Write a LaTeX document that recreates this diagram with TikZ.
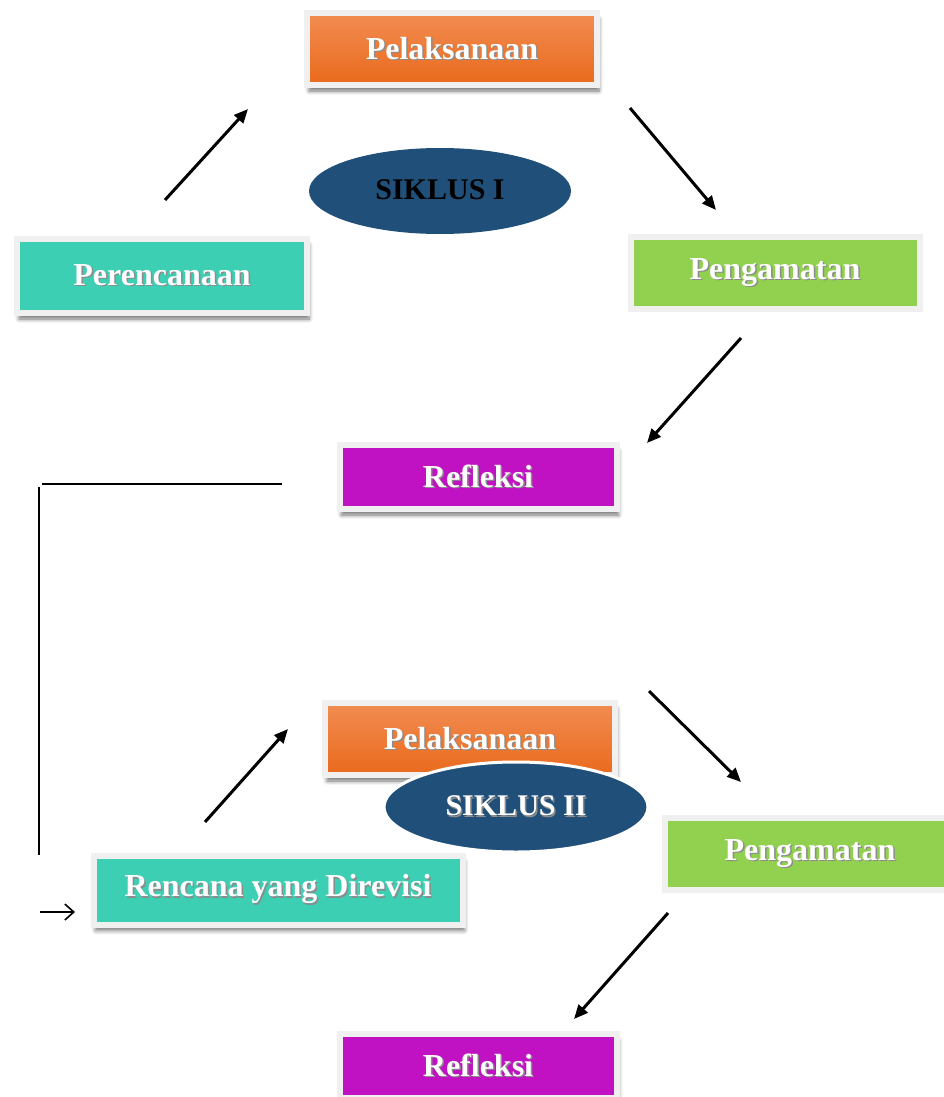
\documentclass[tikz,border=0pt]{standalone}
\usepackage{fontspec}
\setmainfont{Liberation Serif}
\usetikzlibrary{shapes.geometric,shadows,shadows.blur,arrows.meta}
\definecolor{orA}{HTML}{F28C52}
\definecolor{orB}{HTML}{E96A1C}
\definecolor{tealc}{HTML}{3CCFB3}
\definecolor{greenc}{HTML}{92D050}
\definecolor{magc}{HTML}{C012C2}
\definecolor{bluec}{HTML}{20507A}
\definecolor{rimc}{HTML}{F0F0F0}
\tikzset{
  boxbase/.style={rectangle, draw=rimc, line width=6pt, inner sep=0pt,
    font=\fontsize{32}{36}\selectfont\bfseries, text=white},
  shad/.style={blur shadow={shadow xshift=2pt, shadow yshift=-6pt, shadow blur steps=6, shadow blur radius=4pt, shadow opacity=55}},
  orangebox/.style={boxbase, shad, top color=orA, bottom color=orB},
  tealbox/.style={boxbase, shad, fill=tealc},
  greenbox/.style={boxbase, fill=greenc},
  magbox/.style={boxbase, shad, fill=magc},
  cyc/.style={ellipse, fill=bluec, inner sep=0pt, font=\fontsize{30}{34}\selectfont\bfseries},
  arr/.style={line width=3pt, -{Triangle[length=14pt,width=12pt]}},
  plain/.style={line width=2.6pt},
}
\newcommand{\sh}[1]{\raisebox{2pt}{\makebox[0pt][l]{\raisebox{-1.5pt}{\hspace{1.5pt}\textcolor{black!45}{#1}}}#1}}
\begin{document}
\begin{tikzpicture}[x=1pt,y=-1pt]
\useasboundingbox (0,0) rectangle (944,1097);
% boxes
\node[orangebox, minimum width=290pt, minimum height=72pt] (pel1) at (452,49) {\sh{Pelaksanaan}};
\node[tealbox, minimum width=290pt, minimum height=74pt] (per) at (162,276) {\sh{Perencanaan}};
\node[greenbox, minimum width=289pt, minimum height=72pt] (pen1) at (775,273) {\sh{Pengamatan}};
\node[magbox, minimum width=277pt, minimum height=64pt] (ref1) at (478,477) {\sh{Refleksi}};
\node[orangebox, minimum width=290pt, minimum height=72pt] (pel2) at (470,739) {\sh{Pelaksanaan}};
\node[greenbox, minimum width=290pt, minimum height=72pt] (pen2) at (810,854) {\sh{Pengamatan}};
\node[tealbox, minimum width=369pt, minimum height=69pt] (ren) at (278,890) {\sh{Rencana yang Direvisi}};
\node[magbox, minimum width=277pt, minimum height=64pt] (ref2) at (478,1066) {\sh{Refleksi}};
% ellipses
\node[cyc, minimum width=262pt, minimum height=86pt, text=black] (s1) at (440,191) {\raisebox{2pt}{SIKLUS I}};
\node[cyc, draw=white, line width=3pt, minimum width=264pt, minimum height=90pt, text=white] (s2) at (516,807) {\sh{SIKLUS II}};
% arrow coordinates
\coordinate (a1s) at (165,200); \coordinate (a1e) at (248,109);
\coordinate (a2s) at (630,108); \coordinate (a2e) at (716,210);
\coordinate (a3s) at (741,338); \coordinate (a3e) at (647,443);
\coordinate (a4s) at (649,691); \coordinate (a4e) at (741,782);
\coordinate (a5s) at (205,822); \coordinate (a5e) at (288,729);
\coordinate (a6s) at (668,913); \coordinate (a6e) at (574,1019);
\coordinate (l1) at (282,484); \coordinate (l2) at (42,484);
\coordinate (l3) at (39,487); \coordinate (l4) at (39,855);
\coordinate (b1) at (40,912); \coordinate (b2) at (75,912);
\draw[arr] (a1s) -- (a1e);
\draw[arr] (a2s) -- (a2e);
\draw[arr] (a3s) -- (a3e);
\draw[arr] (a4s) -- (a4e);
\draw[arr] (a5s) -- (a5e);
\draw[arr] (a6s) -- (a6e);
\draw[plain] (l1) -- (l2);
\draw[plain] (l3) -- (l4);
\draw[line width=1.6pt, -{Straight Barb[length=9pt,width=16pt]}] (b1) -- (b2);
\end{tikzpicture}
\end{document}
